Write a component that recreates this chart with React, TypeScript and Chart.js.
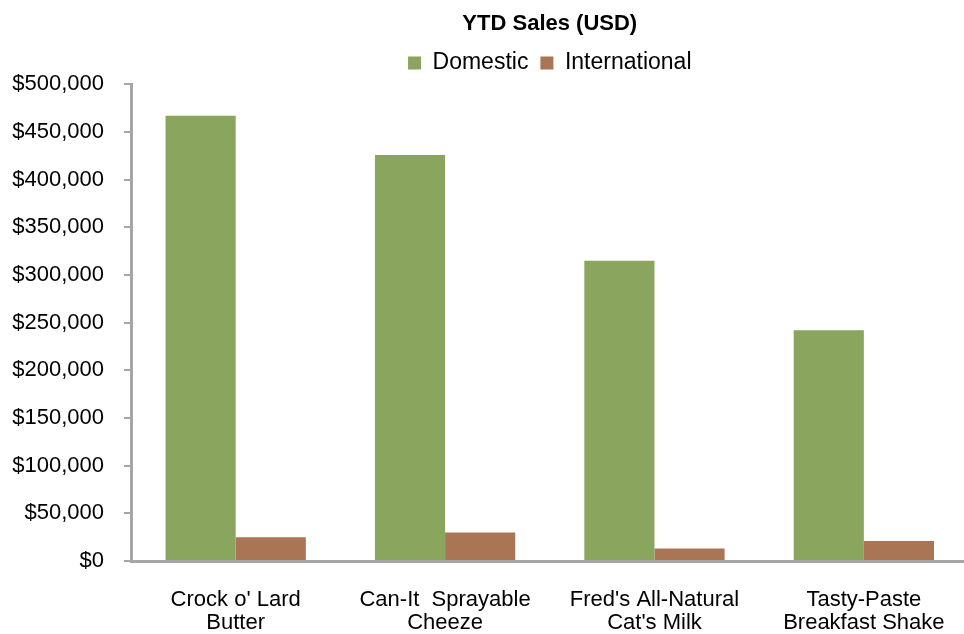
import React, { useEffect, useRef } from "react";
import { Chart, registerables } from "chart.js";

Chart.register(...registerables);

const categories: string[][] = [
  ["Crock o' Lard", "Butter"],
  ["Can-It  Sprayable", "Cheeze"],
  ["Fred's All-Natural", "Cat's Milk"],
  ["Tasty-Paste", "Breakfast Shake"],
];
const domestic: number[] = [467000, 426000, 315000, 242000];
const international: number[] = [25000, 30000, 13000, 21000];
const seriesNames: string[] = ["Domestic", "International"];
const titleText = "YTD Sales (USD)";

const FONT = "'Liberation Sans', Arial, sans-serif";
const AXIS = "#a6a6a6";

export default function App() {
  const ref = useRef<HTMLCanvasElement | null>(null);
  useEffect(() => {
    if (!ref.current) return;
    const chart = new Chart(ref.current, {
      type: "bar",
      data: {
        labels: categories,
        datasets: [
          {
            label: seriesNames[0],
            data: domestic,
            backgroundColor: "#8aa55d",
            categoryPercentage: 0.67,
            barPercentage: 1,
          },
          {
            label: seriesNames[1],
            data: international,
            backgroundColor: "#aa7555",
            categoryPercentage: 0.67,
            barPercentage: 1,
          },
        ],
      },
      options: {
        animation: false,
        responsive: true,
        maintainAspectRatio: false,
        layout: { padding: { left: 0, right: 0, top: 0, bottom: 0 } },
        plugins: {
          title: {
            display: true,
            text: titleText,
            fullSize: false,
            color: "#000",
            font: { family: FONT, size: 22, weight: "bold" },
            padding: { top: 11, bottom: 2 },
          },
          legend: {
            display: true,
            position: "top",
            fullSize: false,
            labels: {
              color: "#000",
              font: { family: FONT, size: 23 },
              boxWidth: 13,
              boxHeight: 13,
              padding: 12,
            },
          },
          tooltip: { enabled: false },
        },
        scales: {
          x: {
            grid: { display: false, drawTicks: false },
            border: { display: true, color: AXIS, width: 3 },
            ticks: {
              color: "#000",
              font: { family: FONT, size: 22, lineHeight: 1.05 },
              padding: 27,
              maxRotation: 0,
              autoSkip: false,
            },
            afterFit: (s: any) => {
              s.height = 73;
            },
          },
          y: {
            min: 0,
            max: 500000,
            grid: {
              display: true,
              drawOnChartArea: false,
              drawTicks: true,
              tickLength: 7,
              color: AXIS,
              lineWidth: 2,
            },
            border: { display: true, color: AXIS, width: 3 },
            ticks: {
              stepSize: 50000,
              color: "#000",
              font: { family: FONT, size: 22 },
              padding: 20,
              callback: (v: any) => "$" + Number(v).toLocaleString("en-US"),
            },
            afterFit: (s: any) => {
              s.width = 131;
            },
          },
        },
      },
    });
    return () => chart.destroy();
  }, []);
  return (
    <div
      style={{
        position: "fixed",
        left: 0,
        top: 0,
        width: 964,
        height: 634,
        overflow: "hidden",
        background: "#fff",
      }}
    >
      <div style={{ position: "relative", width: 972, height: 634 }}>
        <canvas ref={ref} />
      </div>
    </div>
  );
}
